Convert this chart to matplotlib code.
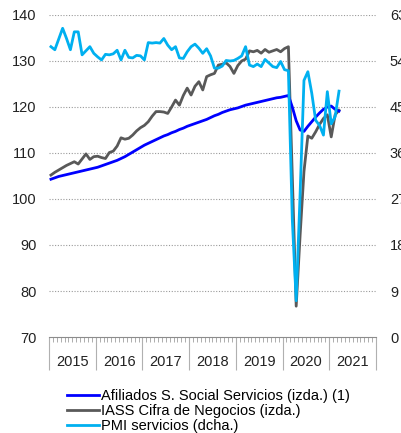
import numpy as np
import matplotlib
matplotlib.use("Agg")
import matplotlib.pyplot as plt
import matplotlib.transforms as mtransforms

plt.rcParams['font.family'] = ['Liberation Sans', 'DejaVu Sans']
plt.rcParams['font.size'] = 10.5

# Monthly data, Jan 2015 - Mar 2021
years = ['2015', '2016', '2017', '2018', '2019', '2020', '2021']

afiliados = [
    104.3, 104.6, 104.9, 105.1, 105.3, 105.5, 105.7, 105.9, 106.1, 106.3, 106.5, 106.7,
    106.9, 107.2, 107.5, 107.8, 108.1, 108.4, 108.8, 109.2, 109.7, 110.2, 110.7, 111.2,
    111.7, 112.1, 112.5, 112.9, 113.3, 113.7, 114.0, 114.4, 114.7, 115.1, 115.4, 115.8,
    116.1, 116.4, 116.7, 117.0, 117.3, 117.7, 118.1, 118.4, 118.8, 119.1, 119.4, 119.6,
    119.8, 120.1, 120.4, 120.6, 120.8, 121.0, 121.2, 121.4, 121.6, 121.8, 122.0, 122.1,
    122.3, 122.5, 120.0, 117.0, 115.0, 114.7, 115.8, 116.8, 117.8, 118.7, 119.5, 120.0,
    120.2, 119.5, 119.1,
]

iass = [
    105.2, 105.8, 106.3, 106.8, 107.3, 107.7, 108.1, 107.6, 108.7, 109.8, 108.6, 109.2,
    109.3, 109.0, 108.8, 110.1, 110.4, 111.5, 113.3, 113.0, 113.2, 113.9, 114.8, 115.5,
    116.0, 116.8, 118.0, 119.0, 119.0, 118.9, 118.6, 120.0, 121.5, 120.4, 122.5, 124.1,
    122.6, 124.5, 125.5, 123.7, 126.6, 127.0, 127.3, 129.1, 129.3, 129.6, 128.8, 127.3,
    129.0, 130.0, 130.4, 132.2, 132.0, 132.3, 131.7, 132.5, 131.9, 132.2, 132.5, 132.0,
    132.7, 133.1, 105.0, 76.7, 92.0, 106.0, 113.7, 113.2, 114.6, 116.2, 117.5, 118.3,
    113.5, 118.3, 119.3,
]

pmi = [
    56.8, 56.2, 58.3, 60.4, 58.4, 56.2, 59.7, 59.7, 55.2, 56.0, 56.8, 55.5,
    54.8, 54.2, 55.3, 55.2, 55.4, 56.1, 54.2, 56.1, 54.7, 54.6, 55.1, 55.0,
    54.2, 57.6, 57.5, 57.6, 57.5, 58.4, 57.1, 56.2, 56.8, 54.6, 54.5, 55.8,
    56.8, 57.3, 56.5, 55.5, 56.4, 55.0, 52.6, 52.6, 53.0, 54.1, 54.0, 54.1,
    54.5, 55.0, 56.8, 53.2, 52.9, 53.4, 52.9, 54.3, 53.6, 52.9, 52.7, 53.9,
    52.3, 52.1, 23.0, 7.1, 27.9, 50.2, 51.9, 47.7, 42.4, 41.4, 39.5, 48.0,
    41.7, 43.1, 48.1,
]

months = np.arange(len(afiliados))

fig = plt.figure(figsize=(4.02, 4.33), dpi=100)
ax = fig.add_axes([0.1219, 0.2217, 0.8134, 0.7437])
ax2 = ax.twinx()

l_iass, = ax.plot(months, iass, color='#595959', lw=2.0, label='IASS Cifra de Negocios (izda.)', zorder=2)
l_afi, = ax.plot(months, afiliados, color='#0000FF', lw=2.0, label='Afiliados S. Social Servicios (izda.) (1)', zorder=3)
l_pmi, = ax2.plot(months, pmi, color='#00B0F0', lw=2.0, label='PMI servicios (dcha.)')

ax.set_xlim(-0.5, 83.5)
ax.set_ylim(70, 140)
ax2.set_ylim(0, 63)
ax.set_yticks(range(70, 141, 10))
ax2.set_yticks(range(0, 64, 9))

for a in (ax, ax2):
    for s in ('top', 'left', 'right', 'bottom'):
        a.spines[s].set_visible(False)
ax.spines['bottom'].set_visible(True)
ax.spines['bottom'].set_color('#8c8c8c')
ax.spines['bottom'].set_linewidth(0.8)

ax.tick_params(axis='y', length=0, pad=9, labelcolor='#222222')
ax2.tick_params(axis='y', length=0, pad=10, labelcolor='#222222')

# dotted grid lines for 80..140
for v in range(80, 141, 10):
    ax.axhline(v, color='#9a9a9a', lw=0.8, ls=(0, (1, 1.5)), zorder=0)

# month ticks and year separators
ax.set_xticks(np.arange(-0.5, 84, 12))
ax.set_xticks(np.arange(-0.5, 84, 1), minor=True)
ax.tick_params(axis='x', which='major', length=24, width=0.8, color='#b0b0b0', labelbottom=False)
ax.tick_params(axis='x', which='minor', length=3.5, width=0.6, color='#a0a0a0')

trans = mtransforms.blended_transform_factory(ax.transData, ax.transAxes)
for k, yr in enumerate(years):
    ax.text(5.5 + 12 * k, -0.078, yr, transform=trans, ha='center', va='center',
            color='#222222')

fig.legend(handles=[l_afi, l_iass, l_pmi], loc='upper left', bbox_to_anchor=(0.167, 0.101),
           frameon=False, handlelength=2.2, handletextpad=0.15, labelspacing=0.05,
           borderpad=0, borderaxespad=0)

fig.savefig('out.png', dpi=100)
